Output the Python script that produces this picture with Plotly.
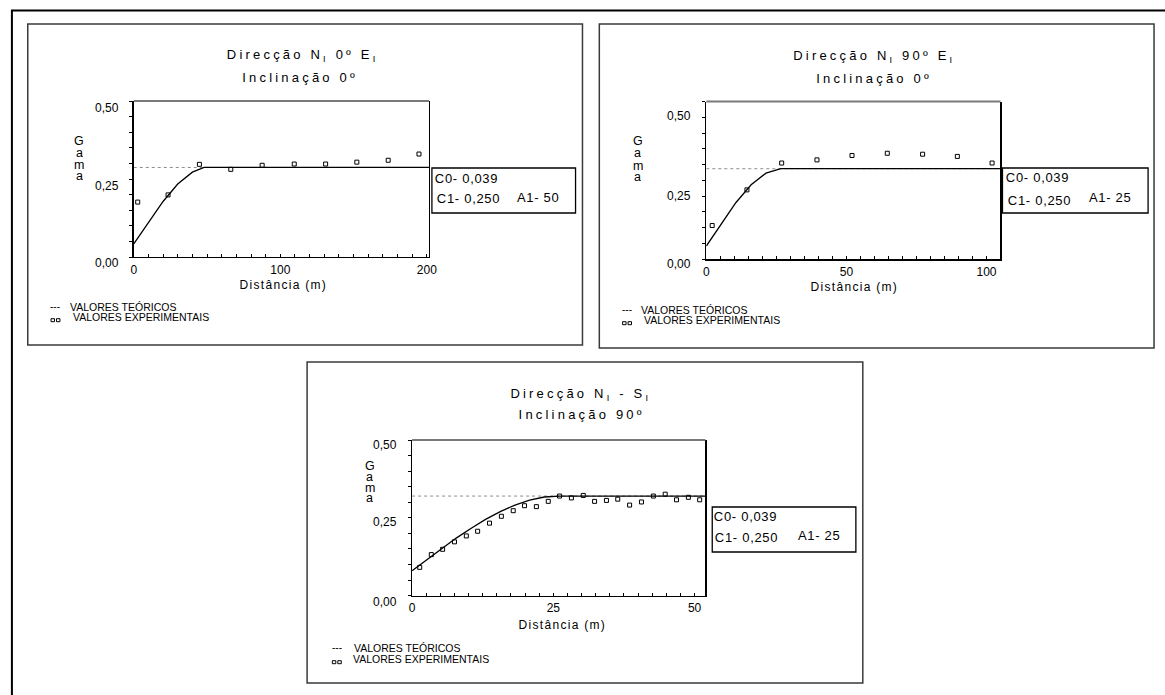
import json
import plotly.graph_objects as go

W, H = 1165, 695
FONT = "Liberation Sans, Arial, sans-serif"

# ---------------- data ----------------
# Direcção N 0º E, inclinação 0º
lag_1 = [2.7, 23.4, 44.8, 66.2, 87.6, 109.5, 130.9, 152.2, 173.6, 194.6]
gama_1 = [0.176, 0.199, 0.297, 0.281, 0.294, 0.298, 0.298, 0.304, 0.310, 0.330]
model_lag_1 = [0, 10, 20, 30, 40, 48, 201.4]
model_gama_1 = [0.042, 0.112, 0.178, 0.234, 0.272, 0.287, 0.287]
sill_1 = 0.287

# Direcção N 90º E, inclinação 0º
lag_2 = [2.1, 14.5, 26.9, 39.5, 52.0, 64.6, 77.2, 89.6, 102.0]
gama_2 = [0.107, 0.220, 0.305, 0.315, 0.329, 0.336, 0.333, 0.326, 0.305]
model_lag_2 = [0, 5.3, 10.6, 16.0, 21.3, 26.6, 105.0]
model_gama_2 = [0.042, 0.113, 0.180, 0.236, 0.273, 0.287, 0.287]
sill_2 = 0.287

# Direcção N - S, inclinação 90º
lag_3 = [1.35, 3.4, 5.4, 7.5, 9.6, 11.6, 13.7, 15.8, 17.9, 19.9, 22.0, 24.1, 26.1,
         28.2, 30.3, 32.3, 34.4, 36.4, 38.5, 40.6, 42.7, 44.8, 46.8, 48.9, 50.9]
gama_3 = [0.091, 0.132, 0.149, 0.173, 0.192, 0.207, 0.233, 0.255, 0.273, 0.289, 0.286,
          0.303, 0.320, 0.314, 0.322, 0.303, 0.306, 0.310, 0.291, 0.301, 0.320, 0.326,
          0.308, 0.316, 0.308]
model_lag_3 = [0, 2.6, 5.2, 7.8, 10.4, 13.0, 15.6, 18.2, 20.8, 23.4, 26.0, 51.9]
model_gama_3 = [0.080, 0.116, 0.151, 0.185, 0.216, 0.245, 0.270, 0.291, 0.307, 0.317,
                0.320, 0.320]
sill_3 = 0.320

titles = [("Direcção N<sub>I</sub> 0º E<sub>I</sub>", "Inclinação 0º"),
          ("Direcção N<sub>I</sub> 90º E<sub>I</sub>", "Inclinação 0º"),
          ("Direcção N<sub>I</sub> - S<sub>I</sub>", "Inclinação 90º")]
x_major = [[0, 100, 200], [0, 50, 100], [0, 25, 50]]
x_minor_step = [10, 5, 2.5]
x_max = [201.4, 105.0, 51.9]
y_ticks = [0.0, 0.25, 0.5]
y_ticktext = ["0,00", "0,25", "0,50"]
y_minor_step = 0.05
model_c0 = ["C0- 0,039"] * 3
model_c1 = ["C1- 0,250"] * 3
model_a1 = ["A1- 50", "A1- 25", "A1- 25"]
legend_lines = ["VALORES TEÓRICOS", "VALORES EXPERIMENTAIS"]

lags = [lag_1, lag_2, lag_3]
gamas = [gama_1, gama_2, gama_3]
mlags = [model_lag_1, model_lag_2, model_lag_3]
mgamas = [model_gama_1, model_gama_2, model_gama_3]
sills = [sill_1, sill_2, sill_3]

# ---------------- page layout (pixels) ----------------
plot_x = [(132, 430), (710, 1007), (413, 709)]
plot_y = [(101, 257), (101.5, 259.3), (440, 595.7)]
frames = [(25, 24, 585, 345), (602, 24, 1162, 348), (307, 362, 868, 683)]
title_pos = [((302, 56), (300, 77.3)), ((879, 56.7), (879, 78.3)), ((584, 394), (585, 415))]
gama_pos = [(77, [141, 153, 165.5, 176.5]), (641, [141.7, 153.5, 166, 177]),
            (370, [466, 477, 488, 499])]
ylabel_drop = [[6.3, 6.5, 7.3], [5, 16, 14.5], [6, 4, 5]]
xtitle_pos = [(283, 285), (860, 286.7), (565, 625)]
box_pos = [(433, 168, 578, 213), (1009, 168, 1156, 213), (716, 507, 861, 552)]
box_text = [((468, 178.3), (469.5, 199), (540, 197.3)),
            ((1044, 178), (1046, 200), (1118, 198)),
            ((750, 516.7), (751, 537.3), (823.3, 535.7))]
legend_pos = [(53, 120.8, 139, 307.3, 316.7), (630, 697.8, 716, 310.3, 319.7),
              (337, 407.4, 422, 648.3, 658.7)]


def px(X):
    return X / W


def py(Y):
    return 1 - Y / H


fig = go.Figure()
annotations, spacing, shapes = [], [], []


def add_text(X, Y, s, size, sp=0.0, **kw):
    d = dict(x=px(X), y=py(Y), xref="paper", yref="paper", text=s, showarrow=False,
             font=dict(family=FONT, size=size, color="black"),
             xanchor="center", yanchor="middle")
    d.update(kw)
    annotations.append(d)
    spacing.append(sp)


# outer frame
shapes.append(dict(type="rect", xref="paper", yref="paper", x0=px(9), y0=py(10.5),
                   x1=px(1175), y1=py(705), line=dict(color="black", width=2)))

for i in range(3):
    sfx = "" if i == 0 else str(i + 1)
    xa, ya = "x" + sfx, "y" + sfx

    # sill (dotted), model curve, experimental points
    fig.add_trace(go.Scatter(x=[0, x_max[i]], y=[sills[i], sills[i]], mode="lines",
                             line=dict(color="#8c8c8c", width=1, dash="dot"),
                             xaxis=xa, yaxis=ya, hoverinfo="skip"))
    fig.add_trace(go.Scatter(x=mlags[i], y=mgamas[i], mode="lines",
                             line=dict(color="black", width=1.3),
                             xaxis=xa, yaxis=ya))
    fig.add_trace(go.Scatter(x=lags[i], y=gamas[i], mode="markers",
                             marker=dict(symbol="square-open", size=4, color="black",
                                         line=dict(width=1, color="black")),
                             xaxis=xa, yaxis=ya))

    fig.layout["xaxis" + sfx] = dict(
        domain=[px(plot_x[i][0]), px(plot_x[i][1])], range=[0, x_max[i]], anchor=ya,
        showline=True, linecolor="black", linewidth=1.3, mirror=False,
        ticks="inside", ticklen=3, tickwidth=1, tickcolor="black",
        tickmode="array", tickvals=x_major[i], ticktext=[str(v) for v in x_major[i]],
        ticklabelstandoff=1,
        minor=dict(ticks="inside", ticklen=3, tickwidth=1, tickcolor="black",
                   dtick=x_minor_step[i], tick0=0, showgrid=False),
        tickfont=dict(family=FONT, size=12, color="black"),
        showgrid=False, zeroline=False, fixedrange=True)
    fig.layout["yaxis" + sfx] = dict(
        domain=[py(plot_y[i][1]), py(plot_y[i][0])], range=[0, 0.5], anchor=xa,
        showline=True, linecolor="black", linewidth=1.3, mirror=True,
        ticks="outside", ticklen=3, tickwidth=1, tickcolor="black",
        tickmode="array", tickvals=y_ticks, showticklabels=False,
        minor=dict(ticks="outside", ticklen=3, tickwidth=1, tickcolor="black",
                   dtick=y_minor_step, tick0=0, showgrid=False),
        showgrid=False, zeroline=False, fixedrange=True)

    # grey top edge of the plotting area
    shapes.append(dict(type="line", xref=xa + " domain", yref=ya + " domain",
                       x0=0, x1=1, y0=1, y1=1, line=dict(color="#7a7a7a", width=2)))

    # y tick labels, dropped slightly under their ticks
    for v, t, drop in zip(y_ticks, y_ticktext, ylabel_drop[i]):
        annotations.append(dict(x=0, xref=xa + " domain", y=v, yref=ya, text=t,
                                showarrow=False, xanchor="right", yanchor="middle",
                                xshift=-13, yshift=-drop,
                                font=dict(family=FONT, size=12, color="black")))
        spacing.append(0)

    # panel frame
    fx0, fy0, fx1, fy1 = frames[i]
    shapes.append(dict(type="rect", xref="paper", yref="paper", x0=px(fx0), y0=py(fy0),
                       x1=px(fx1), y1=py(fy1), line=dict(color="#3a3a3a", width=1.5)))

    # titles
    (t1x, t1y), (t2x, t2y) = title_pos[i]
    add_text(t1x, t1y, titles[i][0], 13, 3.2)
    add_text(t2x, t2y, titles[i][1], 13, 3.2)

    # vertical "Gama", one letter per row
    gx, gys = gama_pos[i]
    for ch, gy in zip("Gama", gys):
        add_text(gx, gy, ch, 12.5, height=10.5)

    # x axis title
    add_text(xtitle_pos[i][0], xtitle_pos[i][1], "Distância (m)", 12, 1.3)

    # model parameter box
    bx0, by0, bx1, by1 = box_pos[i]
    shapes.append(dict(type="rect", xref="paper", yref="paper", x0=px(bx0), y0=py(by0),
                       x1=px(bx1), y1=py(by1), line=dict(color="black", width=1.3)))
    (c0x, c0y), (c1x, c1y), (a1x, a1y) = box_text[i]
    add_text(c0x, c0y, model_c0[i], 13, 0.7)
    add_text(c1x, c1y, model_c1[i], 13, 0.7)
    add_text(a1x, a1y, model_a1[i], 13, 0.7)

    # legend
    gxl, l1x, l2x, l1y, l2y = legend_pos[i]
    add_text(gxl, l1y - 1, "---", 10)
    add_text(l1x, l1y, legend_lines[0], 10.5)
    add_text(l2x, l2y + 0.5, legend_lines[1], 10.5)
    for sx in (gxl - 4.5, gxl + 1):
        shapes.append(dict(type="rect", xref="paper", yref="paper",
                           x0=px(sx), x1=px(sx + 3.5), y0=py(l2y + 2), y1=py(l2y + 5),
                           line=dict(color="black", width=1), fillcolor="white"))

fig.update_layout(width=W, height=H, autosize=False,
                  margin=dict(l=0, r=0, t=0, b=0),
                  paper_bgcolor="white", plot_bgcolor="white",
                  showlegend=False, annotations=annotations, shapes=shapes)

# wide letter tracking of the annotation texts
post_js = ("var sp=%s;var gd=document.getElementById('{plot_id}');"
           "gd.querySelectorAll('g.annotation').forEach(function(g){"
           "var i=parseInt(g.getAttribute('data-index'));"
           "var t=g.querySelector('text');"
           "if(t&&sp[i]){t.style.letterSpacing=sp[i]+'px';}});") % json.dumps(spacing)

fig.write_html("out.html", config={"displayModeBar": False, "staticPlot": True},
               post_script=post_js)
